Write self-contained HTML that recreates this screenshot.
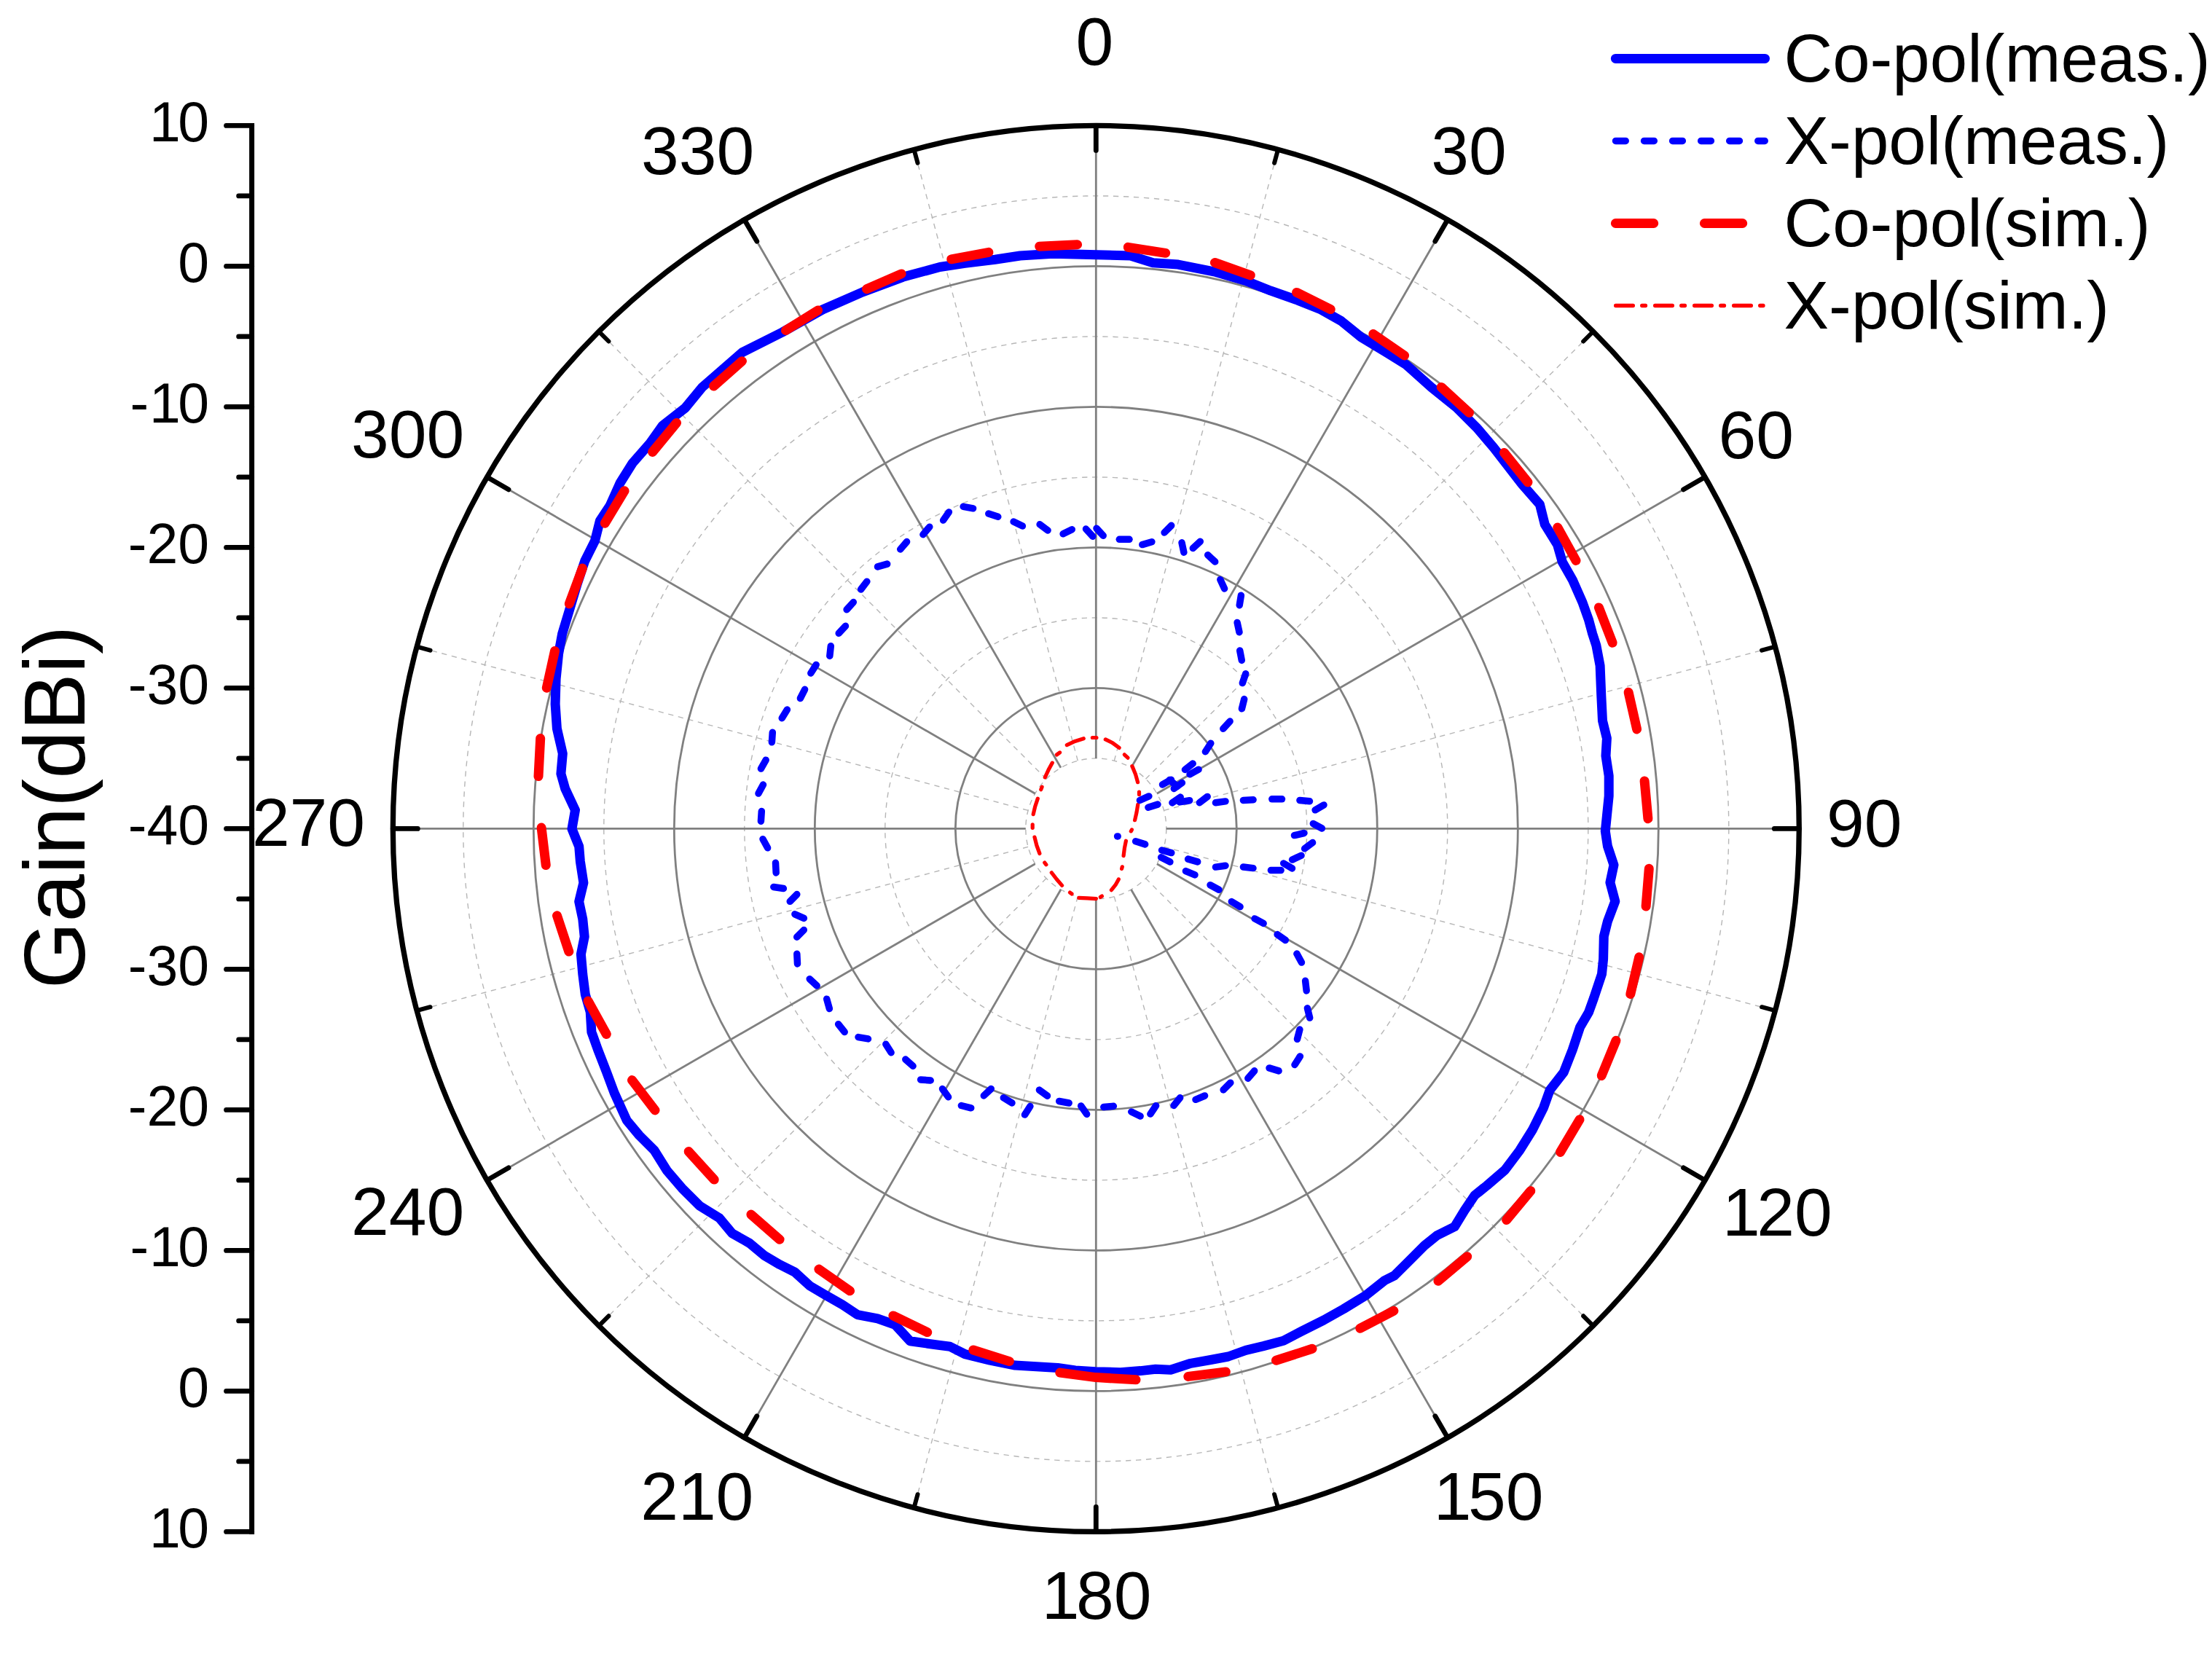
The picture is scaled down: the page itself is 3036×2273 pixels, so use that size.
<!DOCTYPE html>
<html lang="en"><head><meta charset="utf-8"><title>Radiation pattern</title>
<style>html,body{margin:0;padding:0;background:#fff}body{width:3036px;height:2273px;overflow:hidden}svg{display:block}text{font-family:'Liberation Sans', sans-serif;fill:#000}</style>
</head><body>
<svg width="3036" height="2273" viewBox="0 0 3036 2273">
<rect width="3036" height="2273" fill="#fff"/>
<g fill="none" stroke="#b6b6b6" stroke-width="1.4" stroke-dasharray="7.3 6.7">
<circle cx="1504.3" cy="1137.4" r="96.5"/>
<circle cx="1504.3" cy="1137.4" r="289.5"/>
<circle cx="1504.3" cy="1137.4" r="482.5"/>
<circle cx="1504.3" cy="1137.4" r="675.5"/>
<circle cx="1504.3" cy="1137.4" r="868.5"/>
<line x1="1529.3" y1="1044.2" x2="1754.1" y2="205.3"/>
<line x1="1572.5" y1="1069.2" x2="2186.7" y2="455"/>
<line x1="1597.5" y1="1112.4" x2="2436.4" y2="887.6"/>
<line x1="1597.5" y1="1162.4" x2="2436.4" y2="1387.2"/>
<line x1="1572.5" y1="1205.6" x2="2186.7" y2="1819.8"/>
<line x1="1529.3" y1="1230.6" x2="1754.1" y2="2069.5"/>
<line x1="1479.3" y1="1230.6" x2="1254.5" y2="2069.5"/>
<line x1="1436.1" y1="1205.6" x2="821.9" y2="1819.8"/>
<line x1="1411.1" y1="1162.4" x2="572.2" y2="1387.2"/>
<line x1="1411.1" y1="1112.4" x2="572.2" y2="887.6"/>
<line x1="1436.1" y1="1069.2" x2="821.9" y2="455"/>
<line x1="1479.3" y1="1044.2" x2="1254.5" y2="205.3"/>
</g>
<g fill="none" stroke="#808080" stroke-width="2.8">
<circle cx="1504.3" cy="1137.4" r="193"/>
<circle cx="1504.3" cy="1137.4" r="386"/>
<circle cx="1504.3" cy="1137.4" r="579"/>
<circle cx="1504.3" cy="1137.4" r="772"/>
<line x1="1504.3" y1="1040.9" x2="1504.3" y2="172.4"/>
<line x1="1552.5" y1="1053.8" x2="1986.8" y2="301.7"/>
<line x1="1587.9" y1="1089.2" x2="2340" y2="654.9"/>
<line x1="1600.8" y1="1137.4" x2="2469.3" y2="1137.4"/>
<line x1="1587.9" y1="1185.7" x2="2340" y2="1619.9"/>
<line x1="1552.5" y1="1221" x2="1986.8" y2="1973.1"/>
<line x1="1504.3" y1="1233.9" x2="1504.3" y2="2102.4"/>
<line x1="1456" y1="1221" x2="1021.8" y2="1973.1"/>
<line x1="1420.7" y1="1185.7" x2="668.6" y2="1619.9"/>
<line x1="1407.8" y1="1137.4" x2="539.3" y2="1137.4"/>
<line x1="1420.7" y1="1089.2" x2="668.6" y2="654.9"/>
<line x1="1456" y1="1053.8" x2="1021.8" y2="301.7"/>
</g>
<g fill="none" stroke="#000" stroke-linecap="round">
<circle cx="1504.3" cy="1137.4" r="965" stroke-width="7.3"/>
<line x1="1504.3" y1="172.4" x2="1504.3" y2="206.4" stroke-width="6.8"/>
<line x1="1754.1" y1="205.3" x2="1749.1" y2="223.6" stroke-width="6"/>
<line x1="1986.8" y1="301.7" x2="1969.8" y2="331.1" stroke-width="6.8"/>
<line x1="2186.7" y1="455" x2="2173.2" y2="468.5" stroke-width="6"/>
<line x1="2340" y1="654.9" x2="2310.6" y2="671.9" stroke-width="6.8"/>
<line x1="2436.4" y1="887.6" x2="2418.1" y2="892.6" stroke-width="6"/>
<line x1="2469.3" y1="1137.4" x2="2435.3" y2="1137.4" stroke-width="6.8"/>
<line x1="2436.4" y1="1387.2" x2="2418.1" y2="1382.2" stroke-width="6"/>
<line x1="2340" y1="1619.9" x2="2310.6" y2="1602.9" stroke-width="6.8"/>
<line x1="2186.7" y1="1819.8" x2="2173.2" y2="1806.3" stroke-width="6"/>
<line x1="1986.8" y1="1973.1" x2="1969.8" y2="1943.7" stroke-width="6.8"/>
<line x1="1754.1" y1="2069.5" x2="1749.1" y2="2051.2" stroke-width="6"/>
<line x1="1504.3" y1="2102.4" x2="1504.3" y2="2068.4" stroke-width="6.8"/>
<line x1="1254.5" y1="2069.5" x2="1259.5" y2="2051.2" stroke-width="6"/>
<line x1="1021.8" y1="1973.1" x2="1038.8" y2="1943.7" stroke-width="6.8"/>
<line x1="821.9" y1="1819.8" x2="835.4" y2="1806.3" stroke-width="6"/>
<line x1="668.6" y1="1619.9" x2="698" y2="1602.9" stroke-width="6.8"/>
<line x1="572.2" y1="1387.2" x2="590.5" y2="1382.2" stroke-width="6"/>
<line x1="539.3" y1="1137.4" x2="573.3" y2="1137.4" stroke-width="6.8"/>
<line x1="572.2" y1="887.6" x2="590.5" y2="892.6" stroke-width="6"/>
<line x1="668.6" y1="654.9" x2="698" y2="671.9" stroke-width="6.8"/>
<line x1="821.9" y1="455" x2="835.4" y2="468.5" stroke-width="6"/>
<line x1="1021.8" y1="301.7" x2="1038.8" y2="331.1" stroke-width="6.8"/>
<line x1="1254.5" y1="205.3" x2="1259.5" y2="223.6" stroke-width="6"/>
</g>
<polygon points="1290,366.5 1324.4,361.4 1365.7,356.2 1400.1,351 1444.9,348.3 1551.6,351 1582.6,360.7 1617,363.1 1668.6,373.4 1709.9,385.5 1744.3,399.2 1778.8,411.3 1813.2,425 1840.7,440.5 1868.3,462.9 1902.7,483.6 1930.2,500.8 1964.6,531.7 1999.1,559.3 2026.6,586.8 2050,614.3 2089.3,664.9 2113.4,692.4 2120.3,719.9 2137.5,747.5 2144.4,771.6 2158.2,795.7 2171.9,826.6 2180.5,850.7 2185.7,870 2190.9,886.1 2196.1,913.6 2197.8,954.9 2199.5,989.3 2205.4,1013.4 2204,1037.5 2208.2,1065 2208.2,1092.6 2205.4,1120.1 2203.3,1140.8 2206.4,1161.4 2215,1187.2 2209.9,1211.3 2216.8,1237.1 2206.4,1264.7 2201.3,1285.3 2200.6,1316.3 2198.5,1337 2187.5,1370 2180.5,1389.5 2168.5,1410.1 2158.2,1441.1 2146.1,1472.1 2127.2,1496.2 2118.6,1520.3 2103.1,1551.3 2085.9,1578.8 2065.2,1606.3 2041.1,1627 2023.9,1640.8 2010.1,1661.4 1996.4,1683.8 1972.3,1695.8 1955.1,1709.6 1934.4,1730.3 1913.8,1750.9 1900,1757.8 1875.1,1777.7 1844.2,1796.6 1816.6,1812.1 1785.7,1827.6 1761.6,1840.3 1734,1847.6 1709.9,1853.4 1685.8,1862 1661.7,1866.5 1634.2,1871.3 1606.7,1880.3 1586,1879.2 1565.4,1881.6 1537.8,1883.7 1503.4,1882.7 1475.9,1880.9 1451.8,1877.5 1393.3,1874.1 1358.8,1867.2 1324.4,1858.6 1303.8,1848.2 1290,1846.5 1273.3,1844.2 1249.2,1840.8 1228.6,1818.4 1204.5,1809.8 1177,1804.6 1156.3,1790.9 1132.2,1777.1 1111.6,1765 1090.9,1746.1 1070.3,1735.8 1049.6,1723.7 1028.9,1706.5 1004.9,1692.8 987.6,1672.1 960.1,1654.9 936,1630.8 915.4,1606.7 898.2,1579.2 877.5,1558.5 860.3,1537.9 843.1,1500 832.5,1471.6 820.5,1440.6 811.9,1416.5 810.2,1388.9 803.3,1364.9 799.8,1337.3 797.4,1309.8 802.2,1285.7 799.8,1261.6 794.7,1237.5 800.9,1211.7 796.4,1182.4 794.7,1161.8 785,1137.7 789.5,1111.9 775.7,1082.6 769.9,1062 772.3,1034.4 764.4,1000 762.1,966.2 763.1,931.7 766.6,897.3 771.7,869.8 782.1,835.4 792.4,800.9 802.7,770 816.5,742.4 823.4,714.9 837.1,694.2 850.9,663.3 868.1,635.7 892.2,608.2 909.4,584.1 940.4,560 963.7,531.7 1018.8,483.6 1073.8,456 1128.9,425 1184,400.9 1239.1,380.3" fill="none" stroke="#0000ff" stroke-width="13" stroke-linejoin="round"/>
<g fill="none" stroke="#ff0000" stroke-width="13" stroke-linecap="round" stroke-linejoin="round">
<polyline points="1305.7,355.8 1356.9,346.3"/>
<polyline points="1426.7,338.2 1478.6,335.7"/>
<polyline points="1548.3,339.3 1599.7,347.3"/>
<polyline points="1667.4,360.5 1716.4,377.8"/>
<polyline points="1779.6,401.4 1826.2,424.6"/>
<polyline points="1884.8,458.5 1927.6,488"/>
<polyline points="1978.2,531.4 2016.5,566.5"/>
<polyline points="2064.5,621.4 2097,661.9"/>
<polyline points="2137.8,723.9 2163,769.4"/>
<polyline points="2194.4,833.9 2213.2,882.3"/>
<polyline points="2235.1,950.2 2246.6,1000.9"/>
<polyline points="2257.1,1071.9 2261.9,1123.7"/>
<polyline points="2263.3,1192.3 2259.1,1244.1"/>
<polyline points="2249.7,1313.8 2237.8,1364.5"/>
<polyline points="2218,1428.3 2198.2,1476.4"/>
<polyline points="2168,1536.7 2141.5,1581.4"/>
<polyline points="2100.8,1634.6 2067.6,1674.5"/>
<polyline points="2013.7,1724.8 1973.9,1758.2"/>
<polyline points="1912.9,1799.3 1866.8,1823.2"/>
<polyline points="1801,1851.3 1751.5,1867.3"/>
<polyline points="1682.4,1882.9 1630.8,1889.4"/>
<polyline points="1559,1893.8 1504,1890.6 1454.8,1884.1"/>
<polyline points="1385.4,1868.6 1335.8,1853"/>
<polyline points="1272.7,1828.6 1225.9,1805.9"/>
<polyline points="1166.5,1771.8 1123.9,1742.1"/>
<polyline points="1070.1,1701.3 1030.9,1667.1"/>
<polyline points="980.2,1619.1 945.2,1580.6"/>
<polyline points="899,1523.9 867.5,1482.6"/>
<polyline points="832.3,1419.5 807.1,1374"/>
<polyline points="780.8,1306.1 764.5,1256.8"/>
<polyline points="749.3,1187.6 743.1,1136"/>
<polyline points="739,1065.6 741.7,1013.6"/>
<polyline points="750.3,944.2 761.5,893.5"/>
<polyline points="781.3,828.8 799.4,780"/>
<polyline points="830.3,718.2 857.1,673.7"/>
<polyline points="895.5,620.5 928.6,580.4"/>
<polyline points="979.5,530 1018.5,495.7"/>
<polyline points="1078.5,453.5 1122.6,425.9"/>
<polyline points="1189.5,396.7 1237.1,375.9"/>
</g>
<g fill="none" stroke="#ff0000" stroke-width="5.2" stroke-linecap="round" stroke-linejoin="round">
<polyline points="1504.4,1233.7 1492.4,1232.9 1480.8,1232.3"/>
<polyline points="1471,1226.9 1468.5,1225"/>
<polyline points="1457.6,1215.4 1450.2,1206.8 1443.3,1197.7"/>
<polyline points="1435.9,1186.8 1433.8,1184.1"/>
<polyline points="1426.9,1171.5 1422.9,1160.5 1420,1149.1"/>
<polyline points="1417.2,1136.3 1417.2,1131.8"/>
<polyline points="1418.2,1117.6 1420.8,1106.7 1424.3,1096.1"/>
<polyline points="1428.8,1083.7 1430.1,1080.2"/>
<polyline points="1434.3,1067 1439,1056.8 1444.3,1047.1"/>
<polyline points="1450.5,1035.9 1454.6,1032.9"/>
<polyline points="1464.3,1022.6 1475.4,1017.4 1487.3,1013.7"/>
<polyline points="1499.4,1012.5 1504.9,1012.5"/>
<polyline points="1517.3,1014.9 1527.2,1019.8 1536.1,1026.4"/>
<polyline points="1543.3,1035.8 1548,1040.2"/>
<polyline points="1553.9,1051.6 1558.4,1062.4 1561.6,1073.7"/>
<polyline points="1563.5,1087.1 1563.5,1090.4"/>
<polyline points="1561.8,1104.3 1560,1115.1 1557.6,1125.7"/>
<polyline points="1553.4,1138.9 1552.3,1140.9"/>
<polyline points="1545.4,1154.2 1543.4,1164.3 1542.1,1174.6"/>
<polyline points="1540.3,1189.8 1539.6,1192.4"/>
<polyline points="1535.3,1206.9 1531,1214.7 1525.4,1221.7"/>
<polyline points="1512.4,1230.1 1510.4,1231.3"/>
</g>
<g fill="none" stroke="#0000ff" stroke-width="9.5" stroke-linecap="round">
<line x1="1427.1" y1="719.8" x2="1438.1" y2="728"/>
<line x1="1459.1" y1="732.8" x2="1471.3" y2="726.7"/>
<line x1="1490.5" y1="726.1" x2="1499.8" y2="736.2"/>
<line x1="1505" y1="725.2" x2="1514.2" y2="735.3"/>
<line x1="1536.3" y1="740.3" x2="1550" y2="740.3"/>
<line x1="1567.8" y1="747.6" x2="1580.9" y2="743.7"/>
<line x1="1598.1" y1="731" x2="1607.7" y2="721.3"/>
<line x1="1622" y1="744.8" x2="1624.9" y2="758.2"/>
<line x1="1637.3" y1="752.5" x2="1647.3" y2="743.3"/>
<line x1="1657.7" y1="761.8" x2="1667.7" y2="771.1"/>
<line x1="1674.8" y1="795.6" x2="1680.6" y2="808"/>
<line x1="1703.4" y1="817.2" x2="1701.2" y2="830.7"/>
<line x1="1698.1" y1="854.4" x2="1701" y2="867.8"/>
<line x1="1701.7" y1="893" x2="1704.3" y2="906.4"/>
<line x1="1709.7" y1="924.7" x2="1705.3" y2="937.6"/>
<line x1="1707.7" y1="959.6" x2="1704.4" y2="972.8"/>
<line x1="1688.1" y1="990.1" x2="1678.8" y2="1000.2"/>
<line x1="1661.8" y1="1020.2" x2="1654.4" y2="1031.7"/>
<line x1="1637.2" y1="1048.1" x2="1626.4" y2="1056.4"/>
<line x1="1645.1" y1="1056.2" x2="1633" y2="1062.8"/>
<line x1="1595.5" y1="1076.9" x2="1607.4" y2="1070.2"/>
<line x1="1605.2" y1="1070.5" x2="1615.8" y2="1079.3"/>
<line x1="1611.3" y1="1082.5" x2="1622.4" y2="1074.5"/>
<line x1="1576.9" y1="1092.9" x2="1564.4" y2="1098.5"/>
<line x1="1575.9" y1="1108.2" x2="1589" y2="1104.1"/>
<line x1="1608.9" y1="1101.9" x2="1620.2" y2="1094.1"/>
<line x1="1619.1" y1="1100.9" x2="1632.7" y2="1098.7"/>
<line x1="1646.3" y1="1101.7" x2="1657.2" y2="1093.4"/>
<line x1="1668.4" y1="1101.8" x2="1682" y2="1099.9"/>
<line x1="1706.4" y1="1098.5" x2="1720.1" y2="1097.8"/>
<line x1="1745.8" y1="1096.8" x2="1759.5" y2="1096.8"/>
<line x1="1783.9" y1="1098.4" x2="1797.5" y2="1099.8"/>
<line x1="1805.1" y1="1111.8" x2="1817" y2="1104.9"/>
<line x1="1802.3" y1="1130.5" x2="1814.4" y2="1137"/>
<line x1="1789.9" y1="1143.5" x2="1776.5" y2="1146.6"/>
<line x1="1801.6" y1="1156.5" x2="1790.6" y2="1164.8"/>
<line x1="1786" y1="1174.3" x2="1773.6" y2="1180.1"/>
<line x1="1761.7" y1="1185" x2="1773.5" y2="1191.9"/>
<line x1="1758.1" y1="1194.6" x2="1744.4" y2="1194.6"/>
<line x1="1720" y1="1191.6" x2="1706.4" y2="1190"/>
<line x1="1682" y1="1188.2" x2="1668.4" y2="1190.1"/>
<line x1="1643.7" y1="1182.9" x2="1630.6" y2="1179.1"/>
<line x1="1607.8" y1="1170.6" x2="1594.5" y2="1167"/>
<line x1="1571.7" y1="1158.9" x2="1558.6" y2="1154.8"/>
<line x1="1533.6" y1="1147.9" x2="1534.2" y2="1147.9"/>
<line x1="1593.6" y1="1176.8" x2="1605.9" y2="1183"/>
<line x1="1627.4" y1="1195.6" x2="1640" y2="1200.9"/>
<line x1="1661" y1="1214.7" x2="1673" y2="1221.2"/>
<line x1="1690.3" y1="1237.5" x2="1702.1" y2="1244.6"/>
<line x1="1722.1" y1="1260.9" x2="1734.1" y2="1267.4"/>
<line x1="1753.1" y1="1282.6" x2="1764.3" y2="1290.5"/>
<line x1="1779.9" y1="1309.1" x2="1786.4" y2="1321.1"/>
<line x1="1791.6" y1="1346.3" x2="1793.2" y2="1359.9"/>
<line x1="1794.4" y1="1383.8" x2="1797.7" y2="1397.1"/>
<line x1="1783.9" y1="1413.1" x2="1780.5" y2="1426.3"/>
<line x1="1784.4" y1="1449.9" x2="1777" y2="1461.5"/>
<line x1="1755.1" y1="1469.9" x2="1742" y2="1465.9"/>
<line x1="1721.7" y1="1469.8" x2="1712.8" y2="1480.2"/>
<line x1="1688.8" y1="1486.2" x2="1679.1" y2="1495.9"/>
<line x1="1653.6" y1="1504" x2="1641" y2="1509.3"/>
<line x1="1619.7" y1="1506.8" x2="1611" y2="1517.4"/>
<line x1="1586.6" y1="1517.7" x2="1578.9" y2="1529.1"/>
<line x1="1565.1" y1="1532.1" x2="1552.8" y2="1526"/>
<line x1="1528.4" y1="1518.3" x2="1514.8" y2="1519.5"/>
<line x1="1491.6" y1="1529.3" x2="1483.7" y2="1518"/>
<line x1="1467.2" y1="1514" x2="1453.7" y2="1511.5"/>
<line x1="1437.5" y1="1504.2" x2="1426.4" y2="1496.1"/>
<line x1="1413.9" y1="1518.5" x2="1406.5" y2="1530.1"/>
<line x1="1389" y1="1513.9" x2="1377.3" y2="1506.8"/>
<line x1="1360.3" y1="1494.5" x2="1350.3" y2="1503.9"/>
<line x1="1332.7" y1="1520.8" x2="1319.4" y2="1517.5"/>
<line x1="1301.6" y1="1505.7" x2="1293.5" y2="1494.6"/>
<line x1="1277.2" y1="1483" x2="1263.6" y2="1481.9"/>
<line x1="1253.1" y1="1463.2" x2="1242.8" y2="1454.1"/>
<line x1="1223.1" y1="1444.8" x2="1215.8" y2="1433.2"/>
<line x1="1191.5" y1="1425.9" x2="1178" y2="1423.6"/>
<line x1="1159.2" y1="1416.5" x2="1150.6" y2="1405.8"/>
<line x1="1138.4" y1="1384.5" x2="1134.7" y2="1371.2"/>
<line x1="1121.2" y1="1353" x2="1111.2" y2="1343.7"/>
<line x1="1094.5" y1="1322.9" x2="1093.8" y2="1309.2"/>
<line x1="1093.7" y1="1286.2" x2="1103.3" y2="1276.5"/>
<line x1="1103.4" y1="1260.4" x2="1090.9" y2="1254.8"/>
<line x1="1084.2" y1="1237.3" x2="1093.8" y2="1227.6"/>
<line x1="1075.4" y1="1219.5" x2="1061.8" y2="1217.5"/>
<line x1="1065.2" y1="1197.9" x2="1064.5" y2="1184.2"/>
<line x1="1053.6" y1="1163.8" x2="1047" y2="1151.7"/>
<line x1="1044.4" y1="1127.2" x2="1045.3" y2="1113.5"/>
<line x1="1047.5" y1="1077.1" x2="1041" y2="1089.1"/>
<line x1="1051.2" y1="1043.2" x2="1044.4" y2="1055.1"/>
<line x1="1060.3" y1="1005.2" x2="1059.4" y2="1018.8"/>
<line x1="1080.4" y1="974" x2="1073.2" y2="985.7"/>
<line x1="1104.6" y1="946.3" x2="1098.4" y2="958.5"/>
<line x1="1120.2" y1="912.4" x2="1112.8" y2="924"/>
<line x1="1140.3" y1="886.7" x2="1138.8" y2="900.4"/>
<line x1="1160.5" y1="859.3" x2="1151.2" y2="869.3"/>
<line x1="1171.3" y1="826.6" x2="1162.1" y2="836.8"/>
<line x1="1189.9" y1="798.2" x2="1181.6" y2="809"/>
<line x1="1217.7" y1="774.1" x2="1204.5" y2="777.9"/>
<line x1="1244.6" y1="743.6" x2="1235.7" y2="754"/>
<line x1="1275.8" y1="723.2" x2="1266.9" y2="733.7"/>
<line x1="1302.4" y1="702.9" x2="1294.6" y2="714.1"/>
<line x1="1322.1" y1="695.3" x2="1335.6" y2="697.8"/>
<line x1="1356.8" y1="705" x2="1369.8" y2="709.3"/>
<line x1="1391.1" y1="716.1" x2="1403.4" y2="722.1"/>
</g>
<g fill="none" stroke="#000" stroke-width="7" stroke-linecap="round">
<line x1="345.6" y1="172.4" x2="345.6" y2="2102.4" stroke-linecap="square"/>
<line x1="310.6" y1="172.4" x2="345.6" y2="172.4" stroke-width="6.9"/>
<line x1="327.7" y1="268.9" x2="345.6" y2="268.9" stroke-width="6.9"/>
<line x1="310.6" y1="365.4" x2="345.6" y2="365.4" stroke-width="6.9"/>
<line x1="327.7" y1="461.9" x2="345.6" y2="461.9" stroke-width="6.9"/>
<line x1="310.6" y1="558.4" x2="345.6" y2="558.4" stroke-width="6.9"/>
<line x1="327.7" y1="654.9" x2="345.6" y2="654.9" stroke-width="6.9"/>
<line x1="310.6" y1="751.4" x2="345.6" y2="751.4" stroke-width="6.9"/>
<line x1="327.7" y1="847.9" x2="345.6" y2="847.9" stroke-width="6.9"/>
<line x1="310.6" y1="944.4" x2="345.6" y2="944.4" stroke-width="6.9"/>
<line x1="327.7" y1="1040.9" x2="345.6" y2="1040.9" stroke-width="6.9"/>
<line x1="310.6" y1="1137.4" x2="345.6" y2="1137.4" stroke-width="6.9"/>
<line x1="327.7" y1="1233.9" x2="345.6" y2="1233.9" stroke-width="6.9"/>
<line x1="310.6" y1="1330.4" x2="345.6" y2="1330.4" stroke-width="6.9"/>
<line x1="327.7" y1="1426.9" x2="345.6" y2="1426.9" stroke-width="6.9"/>
<line x1="310.6" y1="1523.4" x2="345.6" y2="1523.4" stroke-width="6.9"/>
<line x1="327.7" y1="1619.9" x2="345.6" y2="1619.9" stroke-width="6.9"/>
<line x1="310.6" y1="1716.4" x2="345.6" y2="1716.4" stroke-width="6.9"/>
<line x1="327.7" y1="1812.9" x2="345.6" y2="1812.9" stroke-width="6.9"/>
<line x1="310.6" y1="1909.4" x2="345.6" y2="1909.4" stroke-width="6.9"/>
<line x1="327.7" y1="2005.9" x2="345.6" y2="2005.9" stroke-width="6.9"/>
<line x1="310.6" y1="2102.4" x2="345.6" y2="2102.4" stroke-width="6.9"/>
</g>
<g font-size="77">
<text x="205 244.2" y="194.4">10</text>
<text x="244.2" y="387.4">0</text>
<text x="178.6 205 244.2" y="580.4">-10</text>
<text x="175.7 201.4 244.2" y="773.4">-20</text>
<text x="175.7 201.4 244.2" y="966.4">-30</text>
<text x="175.7 201.4 244.2" y="1159.4">-40</text>
<text x="175.7 201.4 244.2" y="1352.4">-30</text>
<text x="175.7 201.4 244.2" y="1545.4">-20</text>
<text x="178.6 205 244.2" y="1738.4">-10</text>
<text x="244.2" y="1931.4">0</text>
<text x="205 244.2" y="2124.4">10</text>
</g>
<text font-size="118" text-anchor="middle" transform="translate(116 1108) rotate(-90)">Gain(dBi)</text>
<g font-size="93">
<text x="1476.6" y="88.7">0</text>
<text x="1964.2 2015.9" y="239.3">30</text>
<text x="2358.5 2410.2" y="629">60</text>
<text x="2507 2558.7" y="1162.2">90</text>
<text x="2363.9 2411.2 2462.9" y="1696">120</text>
<text x="1967.7 2015 2066.7" y="2085.6">150</text>
<text x="1429.7 1477 1528.7" y="2222.2">180</text>
<text x="879.2 930.9 982.6" y="2086">210</text>
<text x="482 533.7 585.4" y="1695.2">240</text>
<text x="345.9 397.6 449.3" y="1161.2">270</text>
<text x="482 533.7 585.4" y="628.4">300</text>
<text x="880 931.7 983.4" y="239.2">330</text>
</g>
<g fill="none" stroke-linecap="round">
<line x1="2217.4" y1="80.4" x2="2422.5" y2="80.4" stroke="#0000ff" stroke-width="13"/>
<line x1="2217.5" y1="193.4" x2="2422.2" y2="193.4" stroke="#0000ff" stroke-width="9.5" stroke-dasharray="13.7 25.36"/>
<line x1="2217.4" y1="306.5" x2="2400" y2="306.5" stroke="#ff0000" stroke-width="13" stroke-dasharray="52.3 69.7"/>
<line x1="2217.6" y1="419.5" x2="2420" y2="419.5" stroke="#ff0000" stroke-width="5.3" stroke-dasharray="23.8 12.3 4.8 13.1"/>
</g>
<g font-size="92.4">
<text x="2448.5" y="111.7">Co-pol(meas.)</text>
<text x="2448.5" y="224.7">X-pol(meas.)</text>
<text x="2448.5" y="337.7">Co-pol(sim.)</text>
<text x="2448.5" y="450.7">X-pol(sim.)</text>
</g>
</svg></body></html>
